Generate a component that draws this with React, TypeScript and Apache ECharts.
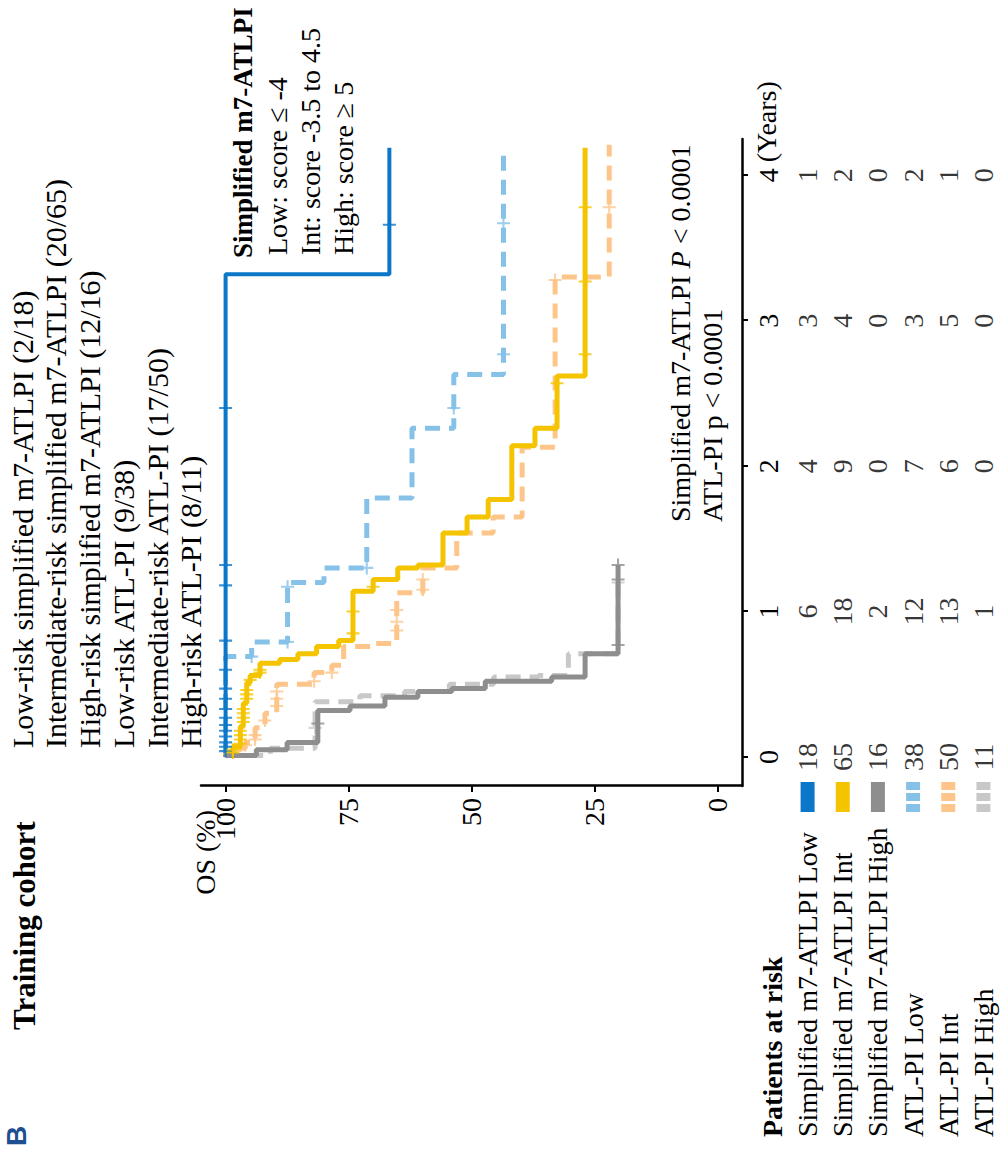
import React, { useEffect, useRef } from "react";
import * as echarts from "echarts";

// ---------------- data ----------------
const timeTickValues = [0, 1, 2, 3, 4];
const timeTickLabels = ["0", "1", "2", "3", "4"];
const osTickValues = [0, 25, 50, 75, 100];

const groupLabels = [
  "Simplified m7-ATLPI Low",
  "Simplified m7-ATLPI Int",
  "Simplified m7-ATLPI High",
  "ATL-PI Low",
  "ATL-PI Int",
  "ATL-PI High",
];

const legendLines = [
  "Low-risk simplified m7-ATLPI (2/18)",
  "Intermediate-risk simplified m7-ATLPI (20/65)",
  "High-risk simplified m7-ATLPI (12/16)",
  "Low-risk ATL-PI (9/38)",
  "Intermediate-risk ATL-PI (17/50)",
  "High-risk ATL-PI (8/11)",
];

const scoreLegendTitle = "Simplified m7-ATLPI";
const scoreLegendLines = ["Low: score ≤ -4", "Int: score -3.5 to 4.5", "High: score ≥ 5"];

const atRiskSimpLow = [18, 6, 4, 3, 1];
const atRiskSimpInt = [65, 18, 9, 4, 2];
const atRiskSimpHigh = [16, 2, 0, 0, 0];
const atRiskAtlLow = [38, 12, 7, 3, 2];
const atRiskAtlInt = [50, 13, 6, 5, 1];
const atRiskAtlHigh = [11, 1, 0, 0, 0];

// Kaplan-Meier steps: [time (years), OS %] – value holds from that time on
const kmSimpLow = [[0, 100], [3.32, 66.7], [4.19, 66.7]];
const censSimpLow = [0.04, 0.07, 0.1, 0.14, 0.18, 0.22, 0.27, 0.33, 0.4, 0.47, 0.6, 0.8, 1.18, 1.32, 2.4, 3.66];

const kmSimpInt = [
  [0, 100], [0.02, 98.5], [0.07, 97.0], [0.21, 96.4], [0.37, 95.7], [0.51, 95.0], [0.56, 93.0],
  [0.645, 89.0], [0.67, 85.3], [0.71, 81.5], [0.76, 77.0], [0.8, 74.1], [1.14, 70.0], [1.22, 65.0],
  [1.3, 60.9], [1.32, 55.8], [1.54, 50.9], [1.65, 46.6], [1.77, 41.8], [2.14, 37.1], [2.26, 32.6],
  [2.62, 26.9], [4.19, 26.9],
];
const censSimpInt = [
  0.03, 0.05, 0.09, 0.12, 0.15, 0.18, 0.24, 0.27, 0.3, 0.33, 0.4, 0.43, 0.46, 0.53, 0.58, 0.6,
  0.85, 1.0, 1.17, 2.57, 2.77, 3.27, 3.78,
];

const kmSimpHigh = [
  [0, 100], [0.01, 93.75], [0.05, 87.5], [0.1, 81.25], [0.32, 74.7], [0.35, 67.6], [0.41, 60.9],
  [0.45, 54.0], [0.47, 47.2], [0.52, 33.7], [0.55, 26.9], [0.71, 20.2], [1.32, 20.2],
];
const censSimpHigh = [0.23, 0.77, 1.22, 1.32];

const kmAtlLow = [
  [0, 100], [0.69, 94.7], [0.79, 87.4], [1.2, 80.0], [1.3, 71.3], [1.78, 62.1], [2.26, 53.6],
  [2.63, 43.5], [4.16, 43.5],
];
const censAtlLow = [0.69, 0.79, 1.17, 1.3, 2.4, 2.77, 3.67];

const kmAtlInt = [
  [0, 100], [0.03, 98], [0.06, 96], [0.1, 94], [0.2, 92], [0.3, 89.6], [0.5, 82], [0.58, 78.4],
  [0.63, 76], [0.76, 70], [0.78, 65.2], [1.13, 59.9], [1.3, 53], [1.54, 45.6], [1.65, 39.7],
  [2.13, 33], [3.3, 22], [4.21, 22],
];
const censAtlInt = [0.04, 0.08, 0.12, 0.15, 0.25, 0.35, 0.4, 0.45, 0.52, 0.58, 0.87, 0.93, 1.01, 1.15, 1.22, 3.28, 3.78];

const kmAtlHigh = [
  [0, 100], [0.01, 90.9], [0.06, 81.8], [0.38, 72.7], [0.42, 63.6], [0.45, 54.5], [0.5, 45.5],
  [0.55, 36.4], [0.56, 30.3], [0.71, 20.2], [1.25, 20.2],
];
const censAtlHigh = [0.2, 1.2];

// ---------------- styling ----------------
const SERIF = "'Liberation Serif', 'Times New Roman', serif";
const C_BLUE = "#0b77c9";
const C_YELLOW = "#f5c400";
const C_GRAY = "#8e8e8e";
const C_LBLUE = "#86c1e8";
const C_ORANGE = "#fdc58a";
const C_LGRAY = "#c8c8c8";

const groups = [
  { km: kmSimpLow, cens: censSimpLow, risk: atRiskSimpLow, color: C_BLUE, dashed: false, width: 4 },
  { km: kmSimpInt, cens: censSimpInt, risk: atRiskSimpInt, color: C_YELLOW, dashed: false, width: 5 },
  { km: kmSimpHigh, cens: censSimpHigh, risk: atRiskSimpHigh, color: C_GRAY, dashed: false, width: 5 },
  { km: kmAtlLow, cens: censAtlLow, risk: atRiskAtlLow, color: C_LBLUE, dashed: true, width: 5 },
  { km: kmAtlInt, cens: censAtlInt, risk: atRiskAtlInt, color: C_ORANGE, dashed: true, width: 5 },
  { km: kmAtlHigh, cens: censAtlHigh, risk: atRiskAtlHigh, color: C_LGRAY, dashed: true, width: 5 },
];

const PLUS = "path://M4.2,0h1.6v4.2h4.2v1.6h-4.2v4.2h-1.6v-4.2h-4.2v-1.6h4.2z";

function survAt(km: number[][], t: number) {
  let s = km[0][1];
  for (const p of km) if (p[0] <= t) s = p[1];
  return s;
}

const W = 1151;
const H = 1001;

function buildOption() {
  const series: any[] = [];
  const order = [3, 4, 5, 0, 1, 2];
  for (const i of order) {
    const g = groups[i];
    series.push({
      type: "line",
      xAxisIndex: 0,
      yAxisIndex: 0,
      step: "end",
      showSymbol: false,
      data: g.km,
      lineStyle: { color: g.color, width: g.width, type: g.dashed ? [15, 9] : "solid", cap: "butt" },
      z: g.dashed ? 2 : 3,
      silent: true,
    });
    series.push({
      type: "scatter",
      xAxisIndex: 0,
      yAxisIndex: 0,
      symbol: PLUS,
      symbolSize: 13,
      data: g.cens.map((t) => [t, survAt(g.km, t)]),
      itemStyle: { color: g.color },
      z: g.dashed ? 2 : 3,
      silent: true,
    });
  }
  const riskData: any[] = [];
  groups.forEach((g, r) => {
    g.risk.forEach((n, k) => riskData.push([timeTickValues[k], r, n]));
  });
  series.push({
    type: "scatter",
    xAxisIndex: 1,
    yAxisIndex: 1,
    symbolSize: 0,
    data: riskData,
    label: {
      show: true,
      position: "inside",
      formatter: (p: any) => String(p.value[2]),
      fontFamily: SERIF,
      fontSize: 28,
      color: "#000",
    },
    silent: true,
  });

  const axisText = { fontFamily: SERIF, fontSize: 28, color: "#000" };

  return {
    animation: false,
    backgroundColor: "#fff",
    grid: [
      { left: 365, top: 201, width: 647, height: 541 },
      { left: 365, top: 790, width: 647, height: 216 },
    ],
    xAxis: [
      {
        type: "value",
        gridIndex: 0,
        min: -0.2,
        max: 4.25,
        axisLine: { show: true, onZero: false, lineStyle: { color: "#000", width: 2.5 } },
        axisTick: { show: true, customValues: timeTickValues, length: 6, lineStyle: { color: "#000", width: 2 } },
        axisLabel: {
          show: true,
          customValues: timeTickValues,
          formatter: (v: number) => timeTickLabels[timeTickValues.indexOf(v)] ?? "",
          margin: 12,
          ...axisText,
        },
        splitLine: { show: false },
      },
      { type: "value", gridIndex: 1, min: -0.2, max: 4.25, show: false },
    ],
    yAxis: [
      {
        type: "value",
        gridIndex: 0,
        min: -5,
        max: 105,
        axisLine: { show: true, onZero: false, lineStyle: { color: "#000", width: 2.5 } },
        axisTick: { show: true, customValues: osTickValues, length: 6, lineStyle: { color: "#000", width: 2 } },
        axisLabel: { show: true, customValues: osTickValues, margin: 12, ...axisText },
        splitLine: { show: false },
      },
      {
        type: "category",
        gridIndex: 1,
        inverse: true,
        data: groupLabels,
        axisLine: { show: false },
        axisTick: { show: false },
        axisLabel: { show: true, interval: 0, align: "left", margin: 351, ...axisText },
        splitLine: { show: false },
      },
    ],
    series,
  };
}

export default function App() {
  const ref = useRef<HTMLDivElement>(null);
  useEffect(() => {
    if (!ref.current) return;
    const chart = echarts.init(ref.current, undefined, { renderer: "svg", width: W, height: H });
    chart.setOption(buildOption());

    const px = (t: number, s: number) => chart.convertToPixel({ xAxisIndex: 0, yAxisIndex: 0 }, [t, s]) as number[];
    const rowY = (r: number) => (chart.convertToPixel({ xAxisIndex: 1, yAxisIndex: 1 }, [0, r]) as number[])[1];
    const x4 = px(4, 0)[0];
    const axisY = px(0, -5)[1];

    const graphic: any[] = [];
    const txt = (x: number, y: number, text: string, font: any, extra: any = {}) => ({
      type: "text",
      x,
      y,
      style: { text, fill: "#000", fontFamily: SERIF, textVerticalAlign: "middle", ...font, ...extra },
      silent: true,
    });

    graphic.push({
      type: "text", x: 5, y: 16,
      style: { text: "B", fill: "#1d4f91", fontFamily: "'Liberation Sans', Arial, sans-serif", fontWeight: "bold", fontSize: 28, textVerticalAlign: "middle" },
    });
    graphic.push(txt(121, 24, "Training cohort", { fontSize: 31, fontWeight: "bold" }));

    const legendV = [22, 55, 89, 123, 157, 190];
    legendLines.forEach((l, i) => graphic.push(txt(403, legendV[i], l, { fontSize: 30 })));

    graphic.push(txt(893, 243, scoreLegendTitle, { fontSize: 27, fontWeight: "bold" }));
    const scoreV = [277, 310, 343];
    scoreLegendLines.forEach((l, i) => graphic.push(txt(896, scoreV[i], l, { fontSize: 28 })));

    graphic.push(txt(341, 205, "OS (%)", { fontSize: 28, textAlign: "right" }));
    graphic.push(txt(x4 + 13, axisY + 24, "(Years)", { fontSize: 28 }));

    graphic.push({
      type: "text", x: 629, y: 680,
      style: {
        text: "Simplified m7-ATLPI {i|P} < 0.0001",
        rich: { i: { fontStyle: "italic", fontFamily: SERIF, fontSize: 28, fill: "#000" } },
        fill: "#000", fontFamily: SERIF, fontSize: 28, textVerticalAlign: "middle",
      },
    });
    graphic.push(txt(629, 712, "ATL-PI p < 0.0001", { fontSize: 28 }));

    graphic.push(txt(14, 772, "Patients at risk", { fontSize: 28, fontWeight: "bold" }));

    groups.forEach((g, r) => {
      const cy = rowY(r);
      if (!g.dashed) {
        graphic.push({ type: "rect", shape: { x: 339, y: cy - 7, width: 30, height: 14 }, style: { fill: g.color } });
      } else {
        [0, 1, 2].forEach((k) =>
          graphic.push({ type: "rect", shape: { x: 339 + k * 11, y: cy - 7, width: 8, height: 14 }, style: { fill: g.color } })
        );
      }
    });

    chart.setOption({ graphic });
    return () => chart.dispose();
  }, []);

  return (
    <div style={{ position: "absolute", left: 0, top: 0, width: 1001, height: 1151, overflow: "hidden", background: "#fff" }}>
      <div
        style={{
          position: "absolute",
          left: 0,
          top: 0,
          width: W,
          height: H,
          transformOrigin: "0 0",
          transform: "translateY(1151px) rotate(-90deg)",
          background: "#fff",
        }}
      >
        <div ref={ref} style={{ width: W, height: H }} />
      </div>
    </div>
  );
}
